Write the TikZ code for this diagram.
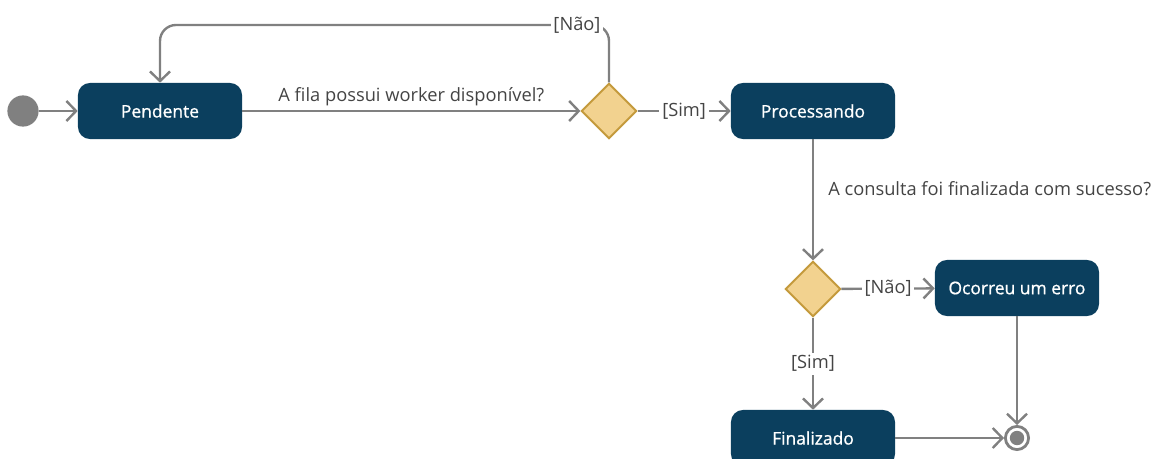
\documentclass[tikz,border=0pt]{standalone}
\usepackage{fontspec}
\setmainfont{Open Sans}
\newfontfamily\estadofont[FakeBold=0.9]{Open Sans}
\usetikzlibrary{arrows.meta,shapes.geometric}

\definecolor{azulestado}{HTML}{0B3F5E}
\definecolor{areia}{HTML}{F2D28F}
\definecolor{ouro}{HTML}{C49A3C}
\definecolor{linha}{HTML}{808080}
\definecolor{texto}{HTML}{444444}

\begin{document}
\begin{tikzpicture}[x=0.025cm, y=-0.025cm,
    estado/.style={rectangle, rounded corners=3mm, fill=azulestado, text=white,
      minimum width=4.1cm, minimum height=1.4cm, font=\estadofont\fontsize{12.4}{14}\selectfont},
    decisao/.style={diamond, aspect=1, fill=areia, draw=ouro, line width=1.4pt,
      minimum width=1.38cm, minimum height=1.38cm, inner sep=0pt},
    fluxo/.style={draw=linha, line width=1.7pt, -{Straight Barb[length=2.4mm,width=5mm]}},
    rotulo/.style={fill=white, text=texto, inner sep=2pt, font=\fontsize{13}{15}\selectfont}]
  \useasboundingbox (0,0) rectangle (1152,459);
  % estados e decisoes
  \node[circle, fill=linha, minimum size=0.78cm, inner sep=0pt] (inicio) at (23,111) {};
  \node[estado] (pendente) at (160,111) {Pendente};
  \node[decisao] (fila) at (609,111) {};
  \node[estado] (processando) at (813,111) {Processando};
  \node[decisao] (consulta) at (813,289) {};
  \node[estado] (erro) at (1017,288) {Ocorreu um erro};
  \node[estado] (finalizado) at (813,438) {Finalizado};
  \node[circle, draw=linha, line width=2pt, fill=white, minimum size=0.58cm, inner sep=0pt] (fim) at (1017,438) {};
  \fill[linha] (fim) circle (0.18cm);
  \coordinate (volta) at (160,25);
  % transicoes
  \draw[fluxo] (inicio) -- (pendente);
  \draw[fluxo] (pendente) -- node[rotulo, fill=none, above=1pt] {A fila possui worker disponível?} (fila);
  \draw[fluxo, rounded corners=4mm] (fila.north) |- (volta) -- (pendente.north);
  \node[rotulo] (nao1) at (577,25) {[Não]};
  \draw[fluxo] (fila) -- node[rotulo] {[Sim]} (processando);
  \draw[fluxo] (processando) -- node[rotulo, fill=none, anchor=west, xshift=8pt, yshift=8pt] {A consulta foi finalizada com sucesso?} (consulta);
  \draw[fluxo] (consulta) -- node[rotulo] {[Não]} (erro);
  \draw[fluxo] (consulta) -- node[rotulo] {[Sim]} (finalizado);
  \draw[fluxo] (erro) -- (fim);
  \draw[fluxo] (finalizado) -- (fim);
\end{tikzpicture}
\end{document}
